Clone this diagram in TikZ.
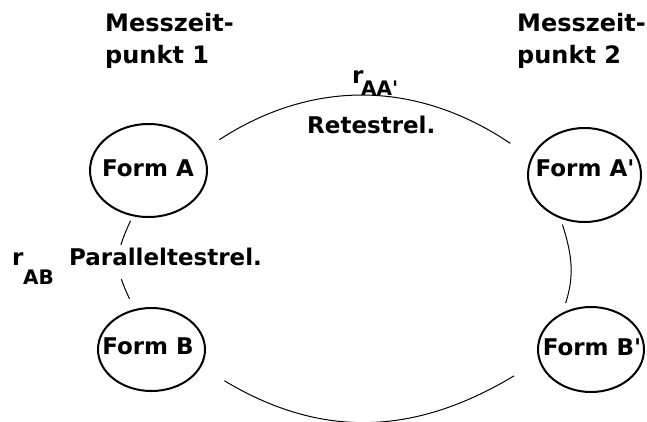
\documentclass[tikz,border=0pt]{standalone}
\usepackage{fontspec}
\setmainfont{DejaVu Sans}
\usetikzlibrary{shapes.geometric}
\begin{document}
\begin{tikzpicture}[x=1pt,y=1pt,
  formell/.style={ellipse,draw,line width=2pt,inner sep=0pt,outer sep=0pt},
  lbl/.style={font=\fontsize{23}{27}\selectfont\bfseries,inner sep=0pt,anchor=base west},
  head/.style={font=\fontsize{24}{28}\selectfont\bfseries,inner sep=0pt,anchor=base west},
  sub/.style={font=\fontsize{20}{24}\selectfont\bfseries,inner sep=0pt,anchor=base west},
  formtxt/.style={font=\fontsize{23}{27}\selectfont\bfseries,inner sep=0pt,anchor=base},
  arcline/.style={line width=1pt}]
\useasboundingbox (0,0) rectangle (647,-421);
% ellipses
\node[formell,minimum width=117pt,minimum height=93pt] (A) at (148.5,-170.5) {};
\node[formell,minimum width=113pt,minimum height=94pt] (A2) at (584.5,-175) {};
\node[formell,minimum width=107pt,minimum height=83pt] (B) at (151.5,-349.5) {};
\node[formell,minimum width=106pt,minimum height=85pt] (B2) at (591,-349.5) {};
% connectors
\draw[arcline,shorten <=21pt,shorten >=26pt] (A.20) to[out=33,in=146,looseness=1.05] (A2.162);
\draw[arcline,shorten <=28pt,shorten >=30pt] (B.-19) to[out=-31,in=211,looseness=1.08] (B2.192);
\draw[arcline,shorten <=6pt,shorten >=12.5pt] (A.251) to[out=245,in=115,looseness=1.25] (B.113);
\draw[arcline,shorten <=7.6pt,shorten >=11.4pt] (A2.240) to[out=-72,in=72,looseness=1.05] (B2.129);
% texts in ellipses
\node[formtxt] (tA) at (148,-176) {Form A};
\node[formtxt] (tA2) at (585,-176) {Form A\textquotesingle};
\node[formtxt] (tB) at (148,-354) {Form B};
\node[formtxt] (tB2) at (592,-355) {Form B\textquotesingle};
% headings
\node[head] (h1a) at (105,-31) {Messzeit-};
\node[head] (h1b) at (105,-63) {punkt 1};
\node[head] (h2a) at (517,-31) {Messzeit-};
\node[head] (h2b) at (517,-63) {punkt 2};
% labels
\node[lbl] (rAA) at (352,-83) {r};
\node[sub] (sAA) at (361,-95) {AA\textquotesingle};
\node[lbl] (ret) at (307,-133) {Retestrel.};
\node[lbl] (rAB) at (12,-265) {r};
\node[sub] (sAB) at (23,-284) {AB};
\node[lbl,fill=white,inner xsep=2pt,inner ysep=0pt,text height=20pt,text depth=14pt] (par) at (67,-265) {Paralleltestrel.};
\end{tikzpicture}
\end{document}
